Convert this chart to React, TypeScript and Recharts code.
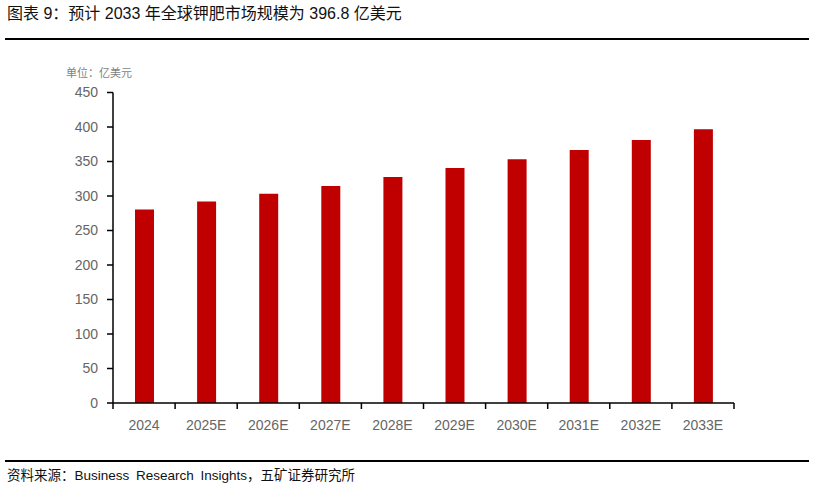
import React from 'react';
import { BarChart, Bar, XAxis, YAxis } from 'recharts';

// 全球钾肥市场规模（亿美元）
const years = ['2024', '2025E', '2026E', '2027E', '2028E', '2029E', '2030E', '2031E', '2032E', '2033E'];
const marketSize = [280.3, 291.9, 303.1, 314.6, 327.4, 340.7, 353.3, 366.8, 381.2, 396.8];
const yTicks = [0, 50, 100, 150, 200, 250, 300, 350, 400, 450];

const data = years.map((year, i) => ({ year, value: marketSize[i] }));

const CJK = '"Liberation Sans", "Noto Sans CJK SC", sans-serif';
const NUM = '"Liberation Sans", Arial, sans-serif';

// x-axis tick: label at category centre, tick mark on category boundary
const XTick = (props: any) => {
  const { x, y, payload, index } = props;
  const half = payload && payload.offset ? payload.offset : 31;
  return (
    <g>
      <line x1={x - half} y1={y} x2={x - half} y2={y + 6} stroke="#000" strokeWidth={1.5} />
      {index === years.length - 1 && (
        <line x1={x + half} y1={y} x2={x + half} y2={y + 6} stroke="#000" strokeWidth={1.5} />
      )}
      <text x={x} y={y + 27} textAnchor="middle" fill="#666" fontSize={14} fontFamily={NUM}>
        {payload.value}
      </text>
    </g>
  );
};

export default function App() {
  return (
    <div style={{ position: 'absolute', left: 0, top: 0, width: 815, height: 489, background: '#fff' }}>
      <div
        style={{
          position: 'absolute', left: 7, top: 3, fontFamily: CJK, fontSize: 16,
          color: '#111', whiteSpace: 'nowrap', lineHeight: '22px',
        }}
      >
        图表 9：预计 2033 年全球钾肥市场规模为 396.8 亿美元
      </div>
      <div style={{ position: 'absolute', left: 5, top: 38, width: 804, height: 2, background: '#000' }} />
      <div
        style={{
          position: 'absolute', left: 66, top: 65, fontFamily: CJK, fontSize: 11,
          color: '#7f7f7f', whiteSpace: 'nowrap', lineHeight: '16px',
        }}
      >
        单位：亿美元
      </div>

      <div style={{ position: 'absolute', left: 0, top: 0 }}>
        <BarChart
          width={815}
          height={489}
          data={data}
          margin={{ top: 92.5, right: 81, bottom: 56, left: 53 }}
          barSize={19}
        >
          <XAxis
            dataKey="year"
            height={30}
            axisLine={{ stroke: '#000', strokeWidth: 1.5 }}
            tickLine={false}
            tickSize={0}
            tickMargin={0}
            interval={0}
            tick={<XTick />}
          />
          <YAxis
            width={60}
            domain={[0, 450]}
            ticks={yTicks}
            interval={0}
            axisLine={{ stroke: '#000', strokeWidth: 1.5 }}
            tickLine={{ stroke: '#000', strokeWidth: 1.5 }}
            tickSize={6}
            tickMargin={9}
            tick={{ fill: '#666', fontSize: 14, fontFamily: NUM }}
          />
          <Bar dataKey="value" fill="#c00000" isAnimationActive={false} />
        </BarChart>
      </div>

      <div style={{ position: 'absolute', left: 5, top: 460, width: 804, height: 2, background: '#000' }} />
      <div
        style={{
          position: 'absolute', left: 7, top: 467, fontFamily: CJK, fontSize: 13.5,
          color: '#111', whiteSpace: 'nowrap', lineHeight: '18px', wordSpacing: 3,
        }}
      >
        资料来源：Business Research Insights，五矿证券研究所
      </div>
    </div>
  );
}
